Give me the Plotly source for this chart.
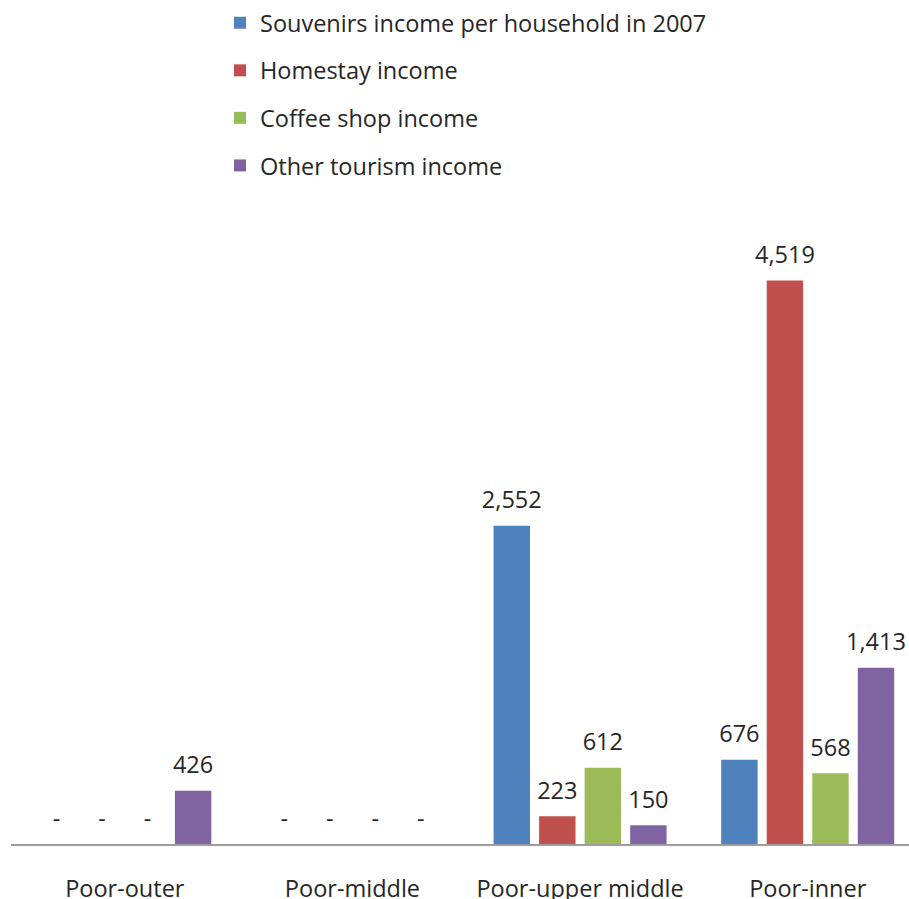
import plotly.graph_objects as go

# Tourism income by household group
categories = ["Poor-outer", "Poor-middle", "Poor-upper middle", "Poor-inner"]
series_names = [
    "Souvenirs income per household in 2007",
    "Homestay income",
    "Coffee shop income",
    "Other tourism income",
]
souvenirs = [0, 0, 2552, 676]
homestay = [0, 0, 223, 4519]
coffee_shop = [0, 0, 612, 568]
other_tourism = [426, 0, 150, 1413]
series_values = [souvenirs, homestay, coffee_shop, other_tourism]
colors = ["#4F81BD", "#C0504D", "#9BBB59", "#8064A2"]

FONT = "Open Sans"
FONT_SIZE = 23.5
TEXT_COLOR = "#262626"


def label(v):
    return f"{v:,}" if v else "-"


fig = go.Figure()

for i, (name, vals, col) in enumerate(zip(series_names, series_values, colors)):
    fig.add_trace(go.Bar(
        x=categories, y=vals, name=name,
        marker=dict(color=col, line=dict(width=0)),
        legendgroup=f"g{i}",
        hoverinfo="skip",
    ))

# value labels, grouped like the bars
for i, vals in enumerate(series_values):
    fig.add_trace(go.Scatter(
        x=categories, y=vals,
        mode="markers+text",
        text=[label(v) for v in vals],
        textposition="top center",
        textfont=dict(family=FONT, size=FONT_SIZE, color=TEXT_COLOR),
        marker=dict(size=17, opacity=0),
        showlegend=False, hoverinfo="skip",
        cliponaxis=False,
    ))

fig.update_layout(
    width=909, height=899,
    margin=dict(l=11, r=0, t=200, b=55, autoexpand=False),
    paper_bgcolor="white", plot_bgcolor="white",
    barmode="group", bargap=0.2, bargroupgap=0.2,
    scattermode="group", scattergap=0.2,
    font=dict(family=FONT, size=FONT_SIZE, color=TEXT_COLOR),
    legend=dict(
        orientation="v",
        xref="container", yref="container",
        x=220 / 909, xanchor="left",
        y=1.0 - 1 / 899, yanchor="top",
        font=dict(family=FONT, size=FONT_SIZE, color=TEXT_COLOR),
        tracegroupgap=14,
        bgcolor="rgba(0,0,0,0)",
    ),
    showlegend=True,
)

fig.update_xaxes(
    type="category",
    range=[-0.5, 3.445],
    showline=True, linecolor="#9c9c9c", linewidth=2,
    showgrid=False, zeroline=False,
    ticks="", ticklabelstandoff=23, tickangle=0,
    tickfont=dict(family=FONT, size=FONT_SIZE, color=TEXT_COLOR),
)
fig.update_yaxes(
    range=[0, 5164],
    showline=False, showgrid=False, zeroline=False,
    showticklabels=False, ticks="",
)

fig.write_html("out.html")
